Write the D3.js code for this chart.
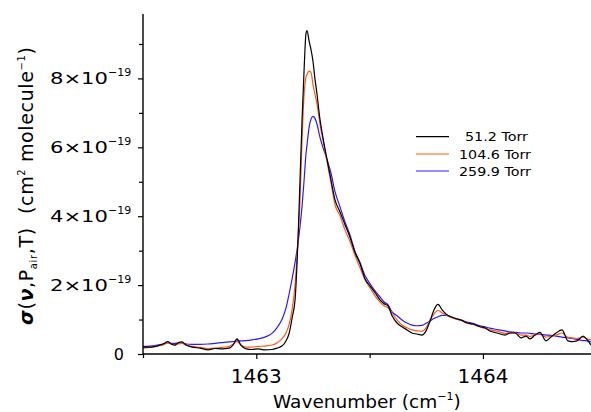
<!DOCTYPE html>
<html><head><meta charset="utf-8">
<script src="https://cdn.jsdelivr.net/npm/d3@7"></script>
<style>
html,body{margin:0;padding:0;background:#fff;}
svg{display:block;}
text{font-family:"DejaVu Sans",sans-serif;fill:#000;}
</style></head>
<body><svg id="c" width="591" height="412"></svg>
<script>
// wavenumber (cm^-1)
const wavenumbers = [1462.500,1462.531,1462.562,1462.588,1462.610,1462.624,1462.641,1462.654,1462.672,1462.690,1462.716,1462.752,1462.787,1462.818,1462.849,1462.880,1462.897,1462.915,1462.932,1462.955,1462.981,1463.008,1463.038,1463.069,1463.091,1463.113,1463.131,1463.144,1463.158,1463.171,1463.184,1463.193,1463.202,1463.211,1463.219,1463.224,1463.233,1463.241,1463.250,1463.259,1463.268,1463.281,1463.294,1463.312,1463.330,1463.347,1463.369,1463.391,1463.414,1463.436,1463.458,1463.480,1463.502,1463.524,1463.546,1463.564,1463.581,1463.599,1463.621,1463.643,1463.665,1463.687,1463.709,1463.731,1463.749,1463.767,1463.784,1463.802,1463.820,1463.837,1463.859,1463.881,1463.903,1463.930,1463.956,1463.987,1464.009,1464.031,1464.062,1464.098,1464.120,1464.142,1464.168,1464.190,1464.208,1464.230,1464.252,1464.278,1464.300,1464.323,1464.349,1464.375,1464.393,1464.415,1464.442,1464.460,1464.477];
// cross sections in units of 1e-19 cm^2 molecule^-1
const sigma51 = [0.20,0.20,0.23,0.29,0.36,0.29,0.26,0.32,0.35,0.26,0.20,0.17,0.12,0.16,0.15,0.17,0.26,0.44,0.26,0.15,0.13,0.15,0.12,0.13,0.17,0.23,0.38,0.58,1.05,1.57,3.32,5.07,6.81,8.27,9.29,9.39,9.08,8.85,8.50,7.98,7.54,6.81,6.29,5.65,5.04,4.48,4.13,3.76,3.38,2.94,2.62,2.18,1.98,1.78,1.57,1.46,1.40,1.11,0.90,0.79,0.70,0.61,0.58,0.55,0.67,0.96,1.28,1.44,1.28,1.16,1.08,1.03,0.99,0.90,0.87,0.79,0.76,0.67,0.61,0.55,0.61,0.61,0.47,0.52,0.44,0.55,0.63,0.38,0.49,0.61,0.70,0.38,0.36,0.38,0.52,0.41,0.26];
const sigma104 = [0.17,0.19,0.23,0.26,0.32,0.29,0.26,0.29,0.31,0.26,0.22,0.19,0.16,0.17,0.19,0.22,0.28,0.36,0.26,0.20,0.20,0.22,0.23,0.26,0.32,0.44,0.61,0.84,1.28,2.01,3.32,4.48,6.23,7.54,8.03,8.12,8.21,8.18,7.83,7.54,7.25,6.67,6.20,5.59,4.95,4.34,4.02,3.61,3.26,2.85,2.50,2.15,1.92,1.69,1.51,1.40,1.34,1.19,0.99,0.84,0.76,0.70,0.67,0.66,0.76,0.99,1.16,1.27,1.19,1.14,1.06,1.02,0.98,0.90,0.86,0.79,0.74,0.70,0.66,0.60,0.61,0.61,0.55,0.55,0.51,0.55,0.58,0.49,0.52,0.55,0.61,0.48,0.47,0.45,0.49,0.44,0.41];
const sigma260 = [0.22,0.23,0.26,0.29,0.32,0.31,0.31,0.32,0.32,0.29,0.28,0.28,0.29,0.31,0.33,0.35,0.36,0.38,0.38,0.39,0.41,0.44,0.49,0.60,0.76,1.00,1.33,1.72,2.18,2.66,3.22,3.70,4.30,5.05,5.79,6.08,6.58,6.81,6.90,6.84,6.67,6.29,6.00,5.65,5.24,4.72,4.28,3.84,3.44,2.97,2.65,2.27,2.04,1.83,1.66,1.51,1.43,1.22,1.11,0.99,0.90,0.84,0.82,0.83,0.89,0.96,1.03,1.08,1.12,1.12,1.08,1.02,0.98,0.93,0.89,0.82,0.79,0.75,0.71,0.67,0.64,0.63,0.61,0.61,0.60,0.58,0.57,0.55,0.54,0.52,0.49,0.47,0.45,0.42,0.39,0.38,0.35];

const seriesLabels = ["51.2 Torr","104.6 Torr","259.9 Torr"];
const seriesColors = ["#000000","#ff5a10","#2a1aff"];
const yMajorTicks = [0,2,4,6,8];
const yMinorTicks = [1,3,5,7,9];
const xMajorTicks = [1463,1464];
const xMinorTicks = [1462.5,1463.5];
const yExponent = "\u221219";

const svg = d3.select("#c");
const L=143, R=591, T=14, B=354;
const x = d3.scaleLinear().domain([1462.5,1464.477]).range([L,R]);
const y = d3.scaleLinear().domain([0,9.87]).range([B,T]);

const series = [sigma51, sigma104, sigma260];
const line = d3.line().x((d,i)=>x(wavenumbers[i])).y(d=>y(d)).curve(d3.curveMonotoneX);

svg.append("clipPath").attr("id","pc").append("rect")
  .attr("x",L).attr("y",0).attr("width",R-L).attr("height",B);
const plot = svg.append("g").attr("clip-path","url(#pc)");
[2,1,0].forEach(k=>{
  plot.append("path").datum(series[k]).attr("d",line)
    .attr("fill","none").attr("stroke",seriesColors[k]).attr("stroke-width",1.2)
    .attr("stroke-linejoin","round");
});

// axes
svg.append("g").attr("transform",`translate(${L},0)`)
  .call(d3.axisLeft(y).tickValues(yMajorTicks).tickSize(5).tickFormat(""));
svg.append("g").attr("transform",`translate(${L},0)`)
  .call(d3.axisLeft(y).tickValues(yMinorTicks).tickSize(4).tickFormat(""));
svg.append("g").attr("transform",`translate(0,${B})`)
  .call(d3.axisBottom(x).tickValues(xMajorTicks).tickSize(5).tickFormat(""));
svg.append("g").attr("transform",`translate(0,${B})`)
  .call(d3.axisBottom(x).tickValues(xMinorTicks).tickSize(4).tickFormat(""));
svg.selectAll(".domain").remove();
svg.selectAll(".tick line").attr("stroke","#000").attr("stroke-width",1.2);
svg.append("line").attr("x1",L).attr("x2",L).attr("y1",T).attr("y2",B+0.5).attr("stroke","#000").attr("stroke-width",1.4);
svg.append("line").attr("x1",L).attr("x2",R).attr("y1",B).attr("y2",B).attr("stroke","#000").attr("stroke-width",1.4);

// y tick labels
yMajorTicks.forEach(v=>{
  const t = svg.append("text").attr("y",y(v)+6).attr("font-size",16);
  if(v===0){ t.attr("x",124).attr("text-anchor","end").text("0"); return; }
  t.attr("x",50);
  t.append("tspan").text(v+"\u00d710").attr("textLength",58).attr("lengthAdjust","spacingAndGlyphs");
  t.append("tspan").attr("dy",-8).attr("font-size",11).text(yExponent);
});
// x tick labels
xMajorTicks.forEach(v=>{
  svg.append("text").attr("x",x(v)).attr("y",383).attr("text-anchor","middle")
    .attr("font-size",20).text(d3.format("d")(v));
});
// x title
const xt = svg.append("text").attr("x",273).attr("y",408).attr("font-size",18.5);
xt.append("tspan").text("Wavenumber (cm");
xt.append("tspan").attr("dy",-8).attr("font-size",11).text("\u22121");
xt.append("tspan").attr("dy",8).text(")");

// y title
const yt = svg.append("text").attr("transform","translate(33,186) rotate(-90)")
  .attr("text-anchor","middle").attr("font-size",19)
  .attr("textLength",278).attr("lengthAdjust","spacing");
yt.append("tspan").attr("font-weight","bold").attr("font-style","italic").text("\u03c3");
yt.append("tspan").text("(");
yt.append("tspan").attr("font-weight","bold").attr("font-style","italic").text("\u03bd");
yt.append("tspan").text(",P");
yt.append("tspan").attr("dy",4).attr("font-size",10).text("air");
yt.append("tspan").attr("dy",-4).text(",T)\u00a0\u00a0(cm");
yt.append("tspan").attr("dy",-8).attr("font-size",10).text("2");
yt.append("tspan").attr("dy",8).text(" molecule");
yt.append("tspan").attr("dy",-8).attr("font-size",10).text("\u22121");
yt.append("tspan").attr("dy",8).text(")");

// legend
const legY = [136.7,154,171];
const legX = [465,459,459];
const legW = [63,72,72];
seriesLabels.forEach((s,i)=>{
  svg.append("line").attr("x1",416).attr("x2",449).attr("y1",legY[i]).attr("y2",legY[i])
    .attr("stroke",seriesColors[i]).attr("stroke-width",1.2);
  svg.append("text").attr("x",legX[i]).attr("y",legY[i]+4.5)
    .attr("font-size",13).attr("textLength",legW[i]).attr("lengthAdjust","spacingAndGlyphs").text(s);
});
</script></body></html>
